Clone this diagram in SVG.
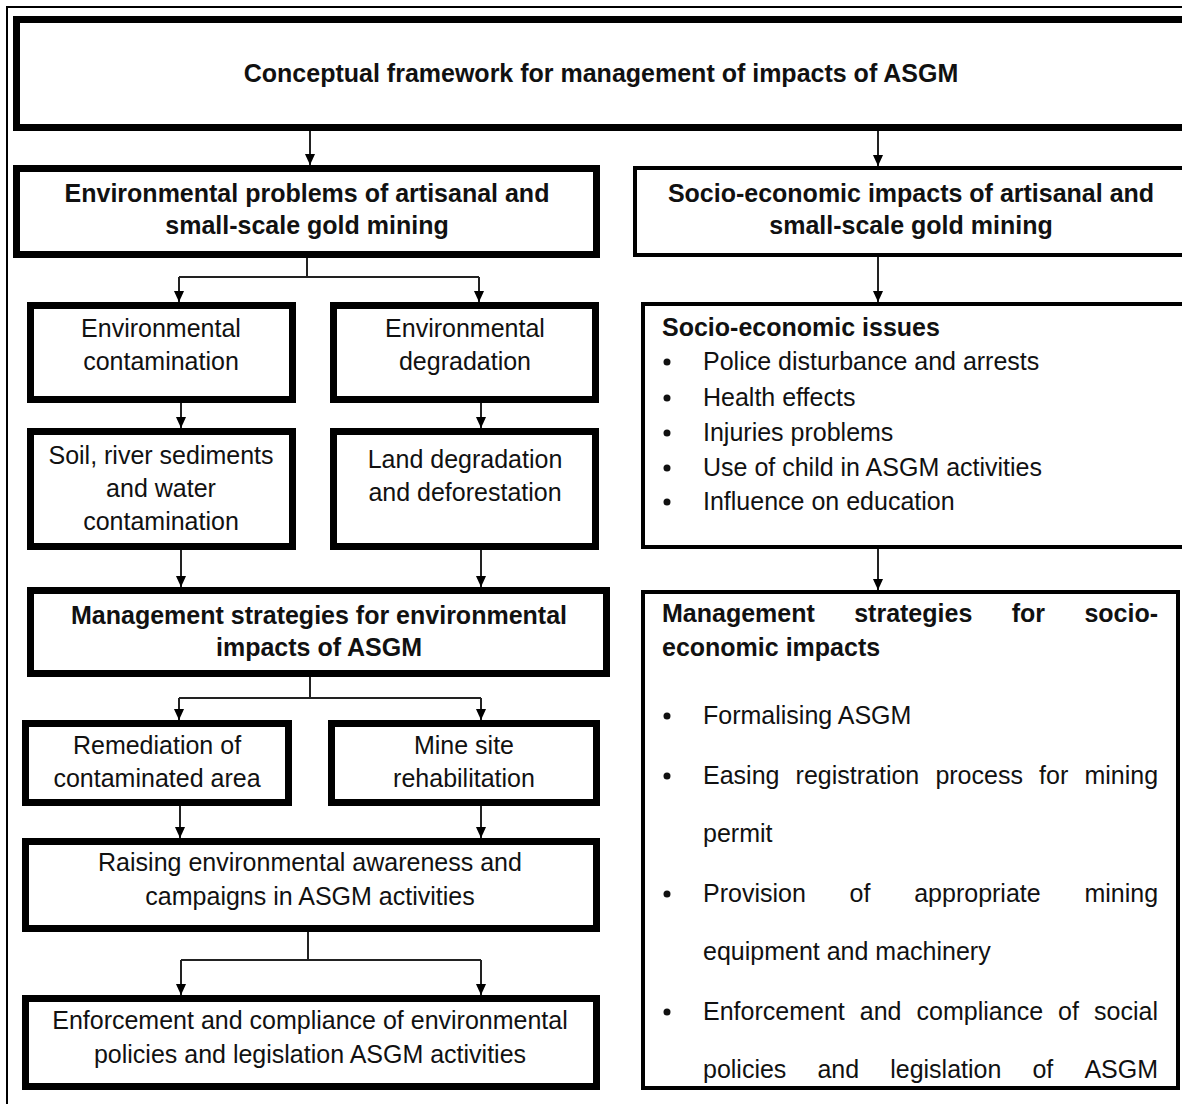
<svg xmlns="http://www.w3.org/2000/svg" width="1182" height="1104" viewBox="0 0 1182 1104">
<style>
.t{font-family:"Liberation Sans",Arial,sans-serif;font-size:25px;fill:#111;}
.b{font-weight:bold;}
.c{text-anchor:middle;}
.thick{fill:#fff;stroke:#000;stroke-width:7;}
.thin{fill:#fff;stroke:#000;stroke-width:4;}
.con{fill:none;stroke:#222;stroke-width:2;}
</style>
<defs>
<marker id="ah" markerUnits="userSpaceOnUse" markerWidth="11" markerHeight="13" refX="12" refY="5.5" orient="auto" viewBox="0 0 12 11">
<path d="M0,0 L12,5.5 L0,11 z" fill="#000"/>
</marker>
<clipPath id="msClip"><rect x="643" y="592" width="535" height="494"/></clipPath>
</defs>
<rect width="1182" height="1104" fill="#fff"/>
<path d="M7,1104 V7 H1182" fill="none" stroke="#000" stroke-width="2"/>

<g id="connectors">
<path class="con" d="M310,131 V165" marker-end="url(#ah)"/>
<path class="con" d="M878,131 V166" marker-end="url(#ah)"/>
<path class="con" d="M307,258 V277 M179,277 H479"/>
<path class="con" d="M179,277 V302" marker-end="url(#ah)"/>
<path class="con" d="M479,277 V302" marker-end="url(#ah)"/>
<path class="con" d="M181,403 V428" marker-end="url(#ah)"/>
<path class="con" d="M481,403 V428" marker-end="url(#ah)"/>
<path class="con" d="M181,550 V587" marker-end="url(#ah)"/>
<path class="con" d="M481,550 V587" marker-end="url(#ah)"/>
<path class="con" d="M310,677 V698 M179,698 H481"/>
<path class="con" d="M179,698 V720" marker-end="url(#ah)"/>
<path class="con" d="M481,698 V720" marker-end="url(#ah)"/>
<path class="con" d="M180,806 V838" marker-end="url(#ah)"/>
<path class="con" d="M481,806 V838" marker-end="url(#ah)"/>
<path class="con" d="M308,932 V960 M181,960 H481"/>
<path class="con" d="M181,960 V995" marker-end="url(#ah)"/>
<path class="con" d="M481,960 V995" marker-end="url(#ah)"/>
<path class="con" d="M878,257 V302" marker-end="url(#ah)"/>
<path class="con" d="M878,549 V590" marker-end="url(#ah)"/>
</g>

<g id="title">
<rect class="thick" x="16.5" y="19.5" width="1200" height="108"/>
<text class="t b c" x="601" y="82">Conceptual framework for management of impacts of ASGM</text>
</g>

<g id="env-problems">
<rect class="thick" x="16.5" y="168.5" width="580" height="86"/>
<text class="t b c" x="307" y="202">Environmental problems of artisanal and</text>
<text class="t b c" x="307" y="234">small-scale gold mining</text>
</g>

<g id="socio-impacts">
<rect class="thin" x="635" y="168" width="600" height="87"/>
<text class="t b c" x="911" y="202">Socio-economic impacts of artisanal and</text>
<text class="t b c" x="911" y="234">small-scale gold mining</text>
</g>

<g id="env-contamination">
<rect class="thick" x="30.5" y="305.5" width="262" height="94"/>
<text class="t c" x="161" y="337">Environmental</text>
<text class="t c" x="161" y="370">contamination</text>
</g>

<g id="env-degradation">
<rect class="thick" x="333.5" y="305.5" width="262" height="94"/>
<text class="t c" x="465" y="337">Environmental</text>
<text class="t c" x="465" y="370">degradation</text>
</g>

<g id="soil-contamination">
<rect class="thick" x="30.5" y="431.5" width="262" height="115"/>
<text class="t c" x="161" y="464">Soil, river sediments</text>
<text class="t c" x="161" y="497">and water</text>
<text class="t c" x="161" y="530">contamination</text>
</g>

<g id="land-degradation">
<rect class="thick" x="333.5" y="431.5" width="262" height="115"/>
<text class="t c" x="465" y="468">Land degradation</text>
<text class="t c" x="465" y="501">and deforestation</text>
</g>

<g id="mgmt-env">
<rect class="thick" x="30.5" y="590.5" width="576" height="83"/>
<text class="t b c" x="319" y="624">Management strategies for environmental</text>
<text class="t b c" x="319" y="656">impacts of ASGM</text>
</g>

<g id="remediation">
<rect class="thick" x="25.5" y="723.5" width="263" height="79"/>
<text class="t c" x="157" y="754">Remediation of</text>
<text class="t c" x="157" y="787">contaminated area</text>
</g>

<g id="mine-rehab">
<rect class="thick" x="331.5" y="723.5" width="265" height="79"/>
<text class="t c" x="464" y="754">Mine site</text>
<text class="t c" x="464" y="787">rehabilitation</text>
</g>

<g id="raising-awareness">
<rect class="thick" x="25.5" y="841.5" width="571" height="87"/>
<text class="t c" x="310" y="871">Raising environmental awareness and</text>
<text class="t c" x="310" y="905">campaigns in ASGM activities</text>
</g>

<g id="enforcement-env">
<rect class="thick" x="25.5" y="998.5" width="571" height="88"/>
<text class="t c" x="310" y="1029">Enforcement and compliance of environmental</text>
<text class="t c" x="310" y="1063">policies and legislation ASGM activities</text>
</g>

<g id="socio-issues">
<rect class="thin" x="643" y="304" width="600" height="243"/>
<text class="t b" x="662" y="336">Socio-economic issues</text>
<g fill="#111">
<circle cx="667" cy="362" r="3.5"/>
<circle cx="667" cy="398" r="3.5"/>
<circle cx="667" cy="433" r="3.5"/>
<circle cx="667" cy="468" r="3.5"/>
<circle cx="667" cy="502" r="3.5"/>
</g>
<text class="t" x="703" y="370">Police disturbance and arrests</text>
<text class="t" x="703" y="406">Health effects</text>
<text class="t" x="703" y="441">Injuries problems</text>
<text class="t" x="703" y="476">Use of child in ASGM activities</text>
<text class="t" x="703" y="510">Influence on education</text>
</g>

<g id="mgmt-socio">
<rect class="thin" x="643" y="592" width="535" height="496"/>
<g clip-path="url(#msClip)">
<text class="t b" y="622"><tspan x="662">Management</tspan> <tspan x="854.2">strategies</tspan> <tspan x="1011.7">for</tspan> <tspan x="1084.4">socio-</tspan></text>
<text class="t b" x="662" y="656">economic impacts</text>
<g fill="#111">
<circle cx="667" cy="716" r="3.5"/>
<circle cx="667" cy="776" r="3.5"/>
<circle cx="667" cy="894" r="3.5"/>
<circle cx="667" cy="1012" r="3.5"/>
</g>
<text class="t" x="703" y="724">Formalising ASGM</text>
<text class="t" y="784"><tspan x="703">Easing</tspan> <tspan x="795.6">registration</tspan> <tspan x="935.4">process</tspan> <tspan x="1039.1">for</tspan> <tspan x="1084.4">mining</tspan></text>
<text class="t" x="703" y="842">permit</text>
<text class="t" y="902"><tspan x="703">Provision</tspan> <tspan x="849.6">of</tspan> <tspan x="914.2">appropriate</tspan> <tspan x="1084.4">mining</tspan></text>
<text class="t" x="703" y="960">equipment and machinery</text>
<text class="t" y="1020"><tspan x="703">Enforcement</tspan> <tspan x="859.8">and</tspan> <tspan x="916.6">compliance</tspan> <tspan x="1058.1">of</tspan> <tspan x="1094.1">social</tspan></text>
<text class="t" y="1078"><tspan x="703">policies</tspan> <tspan x="817.4">and</tspan> <tspan x="890.2">legislation</tspan> <tspan x="1032.4">of</tspan> <tspan x="1084.4">ASGM</tspan></text>
</g>
<rect x="643" y="592" width="535" height="496" fill="none" stroke="#000" stroke-width="4"/>
</g>
</svg>
